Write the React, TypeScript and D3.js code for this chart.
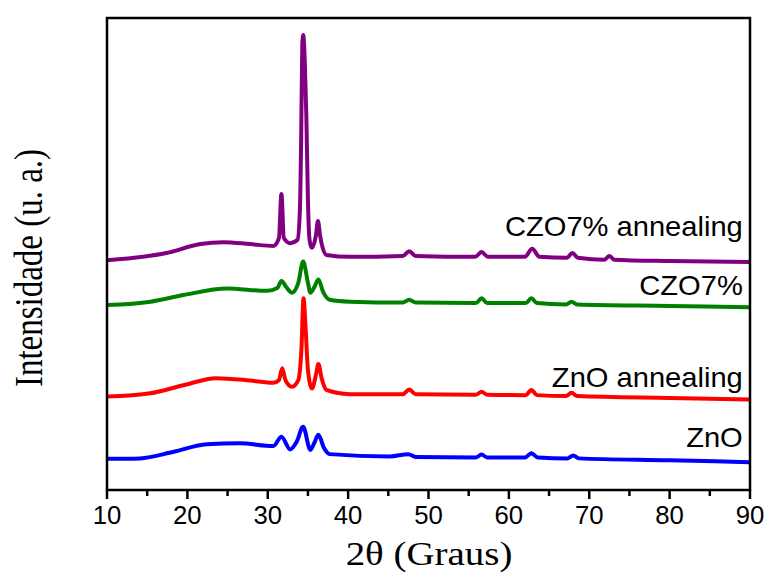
import React from "react";
import * as d3 from "d3";

// 2θ positions (degrees) and intensities (a.u., stacked with offsets as plotted)
const czoAnnTheta = [10, 14.5, 17.4, 21.6, 24.5, 27.8, 30.7, 31.4, 31.7, 32.0, 32.8, 33.7, 34.0, 34.15, 34.3, 34.42, 34.6, 34.8, 35.0, 35.2, 35.5, 36.0, 36.25, 36.5, 37.3, 40.2, 46.8, 47.6, 48.4, 55.8, 56.6, 57.4, 62.0, 62.9, 63.8, 67.2, 67.9, 68.6, 71.9, 72.5, 73.1, 80, 89.9];
const czoAnnValues = [48.7, 49.4, 50.2, 52.1, 52.5, 52.1, 51.7, 53.4, 62.7, 53.4, 52.3, 53.0, 59.3, 73.5, 94.5, 96.4, 91.1, 79.4, 61.4, 53.0, 51.3, 54.0, 57.0, 54.0, 49.8, 49.4, 49.6, 50.6, 49.6, 49.4, 50.4, 49.4, 49.4, 51.1, 49.4, 49.2, 50.2, 49.2, 48.8, 49.6, 48.8, 48.5, 48.3];

const czoTheta = [10, 15.4, 19.5, 24.9, 29.9, 31.2, 31.7, 32.3, 33.0, 33.8, 34.4, 35.0, 35.3, 35.8, 36.3, 36.9, 37.7, 40.2, 46.8, 47.6, 48.4, 55.9, 56.6, 57.3, 62.1, 62.8, 63.5, 67.1, 67.8, 68.5, 80, 89.9];
const czoValues = [39.2, 39.9, 41.3, 42.7, 42.2, 42.8, 44.3, 43.0, 41.8, 43.9, 48.4, 43.9, 41.8, 43.0, 44.6, 41.9, 40.3, 39.9, 39.7, 40.3, 39.7, 39.6, 40.6, 39.6, 39.6, 40.6, 39.6, 39.3, 39.9, 39.3, 39.0, 38.7];

const znoAnnTheta = [10, 15.4, 19.5, 23.6, 27.8, 30.7, 31.4, 31.8, 32.2, 33.0, 33.8, 34.2, 34.45, 34.7, 35.0, 35.5, 36.0, 36.3, 36.7, 37.3, 40.2, 46.8, 47.6, 48.4, 55.9, 56.6, 57.3, 62.1, 62.8, 63.5, 67.1, 67.8, 68.5, 80, 89.9];
const znoAnnValues = [19.8, 20.5, 22.2, 23.7, 23.2, 22.7, 23.3, 25.8, 23.3, 21.9, 23.3, 30.1, 40.6, 34.6, 25.4, 21.5, 24.4, 26.7, 23.7, 21.2, 20.3, 20.3, 21.3, 20.3, 20.2, 20.8, 20.2, 20.1, 21.2, 20.1, 19.9, 20.6, 19.9, 19.5, 19.2];

const znoTheta = [10, 14.1, 18.3, 22.4, 26.5, 30.7, 31.7, 32.8, 33.6, 34.4, 35.3, 35.8, 36.3, 37.0, 37.7, 45.2, 47.5, 48.4, 55.9, 56.6, 57.3, 62.0, 62.8, 63.6, 67.3, 68.0, 68.7, 80, 89.9];
const znoValues = [6.6, 6.7, 8.1, 9.7, 9.9, 9.3, 11.3, 8.6, 10.2, 13.4, 8.5, 10.0, 11.7, 8.9, 7.6, 7.1, 7.6, 7.0, 6.9, 7.5, 6.9, 6.9, 7.8, 6.9, 6.7, 7.3, 6.7, 6.3, 5.9];

const seriesNames = ["CZO7% annealing", "CZO7%", "ZnO annealing", "ZnO"];
const seriesColors = ["#800080", "#008000", "#ff0000", "#0000ff"];
const labelLevels = [53.8, 41.3, 21.8, 9.1];
const xTicks = [10, 20, 30, 40, 50, 60, 70, 80, 90];
const xMinorTicks = [15, 25, 35, 45, 55, 65, 75, 85];

export default function App() {
  const W = 767, H = 576;
  const left = 107, right = 750, top = 18, bottom = 490;
  const x = d3.scaleLinear().domain([10, 90]).range([left, right]);
  const y = d3.scaleLinear().domain([0, 100]).range([bottom, top]);

  const thetas = [czoAnnTheta, czoTheta, znoAnnTheta, znoTheta];
  const vals = [czoAnnValues, czoValues, znoAnnValues, znoValues];
  const line = d3
    .line<[number, number]>()
    .x((d) => x(d[0]))
    .y((d) => y(d[1]))
    .curve(d3.curveMonotoneX);

  const sans = "Liberation Sans, Arial, sans-serif";
  const serif = "Liberation Serif, Times New Roman, serif";

  return (
    <svg width={W} height={H} style={{ position: "absolute", left: 0, top: 0 }}>
      <rect x={0} y={0} width={W} height={H} fill="#fff" />
      {thetas.map((t, i) => (
        <path
          key={i}
          d={line(t.map((v, j) => [v, vals[i][j]] as [number, number])) || ""}
          fill="none"
          stroke={seriesColors[i]}
          strokeWidth={4}
          strokeLinejoin="round"
        />
      ))}
      <rect x={left} y={top} width={right - left} height={bottom - top} fill="none" stroke="#000" strokeWidth={2.5} />
      {xTicks.map((t) => (
        <g key={t}>
          <line x1={x(t)} x2={x(t)} y1={bottom} y2={bottom + 9} stroke="#000" strokeWidth={2.5} />
          <text transform={`translate(${x(t)},524) scale(1.03,1)`} textAnchor="middle" fontFamily={sans} fontSize={25} fill="#000">
            {t}
          </text>
        </g>
      ))}
      {xMinorTicks.map((t) => (
        <line key={t} x1={x(t)} x2={x(t)} y1={bottom} y2={bottom + 6} stroke="#000" strokeWidth={2.5} />
      ))}
      {seriesNames.map((n, i) => (
        <text key={n} transform={`translate(${x(89.1)},${y(labelLevels[i])}) scale(1.04,1)`} textAnchor="end" fontFamily={sans} fontSize={28} fill="#000">
          {n}
        </text>
      ))}
      <text transform="translate(429,565) scale(1.18,1)" textAnchor="middle" fontFamily={serif} fontSize={33} fill="#000">
        2θ (Graus)
      </text>
      <text transform="translate(42,268) scale(1.2,1) rotate(-90)" textAnchor="middle" fontFamily={serif} fontSize={33} fill="#000">
        Intensidade (u. a.)
      </text>
    </svg>
  );
}
